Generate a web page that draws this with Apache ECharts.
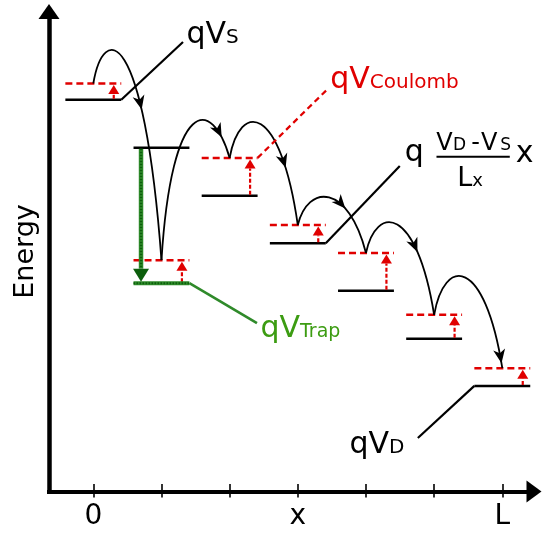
<!DOCTYPE html>
<html>
<head>
<meta charset="utf-8">
<script src="https://cdn.jsdelivr.net/npm/echarts@6/dist/echarts.min.js"></script>
<style>
  html, body { margin: 0; padding: 0; background: #fff; }
  #chart { width: 542px; height: 534px; }
</style>
</head>
<body>
<div id="chart"></div>
<script>
// Hopping transport along x: localized sites on a band edge tilted by the bias,
// each site lifted by its Coulomb energy, one deep trap near the source.
const siteX        = [0, 1, 2, 3, 4, 5, 6];
const bandLevel    = [81.6, 71.6, 61.6, 51.7, 41.8, 31.8, 22.0];
const coulombLevel = [85.0, 48.2, 69.5, 55.5, 49.7, 36.8, 25.7];
const trapSite     = 1;
const trapLevel    = 43.4;
const hopApex      = [92.0, 77.4, 77.0, 61.4, 56.1, 44.9];
const tickValues   = [0, 1, 2, 3, 4, 5, 6];
const tickLabels   = { 0: '0', 3: 'x', 6: 'L' };

const FONT = 'DejaVu Sans';
const RED = '#e00000';
const GREEN_TEXT = '#3c9c12';
const GREEN_LINE = '#2f8a2a';
const GREEN_DARK = '#0c5e0c';

const HALF = 0.41;      // half width of a site level, in x units
const ARROW_DX = 0.3;   // Coulomb arrow offset from site centre
const GREEN_DX = -0.3;  // trapping arrow offset

const measureCtx = document.createElement('canvas').getContext('2d');
function textWidth(s, fs) {
  measureCtx.font = fs + 'px "' + FONT + '"';
  return measureCtx.measureText(s).width;
}

function seg(a, b, style) {
  return { type: 'line', shape: { x1: a[0], y1: a[1], x2: b[0], y2: b[1] }, style: style };
}

// text placed on an alphabetic baseline
function label(x, baseline, s, fs, color, align) {
  return {
    type: 'text', x: x, y: baseline - 0.3 * fs,
    style: { text: s, fontFamily: FONT, fontSize: fs, fill: color,
             align: align || 'left', verticalAlign: 'middle' }
  };
}

// main text followed by a smaller same-baseline suffix
function subLabel(x, baseline, main, sub, fs, subFs, color, alignRight) {
  const w1 = textWidth(main, fs), w2 = textWidth(sub, subFs);
  const x0 = alignRight ? x - w1 - w2 : x;
  return [label(x0, baseline, main, fs, color), label(x0 + w1, baseline, sub, subFs, color)];
}

function upArrowHead(x, tipY, color, w, h) {
  return { type: 'polygon', shape: { points: [[x, tipY], [x + w / 2, tipY + h], [x - w / 2, tipY + h]] },
           style: { fill: color } };
}

function renderSite(params, api) {
  const i = params.dataIndex;
  const x = api.value(0), band = api.value(1), cl = api.value(2);
  const children = [];
  children.push(seg(api.coord([x - HALF, band]), api.coord([x + HALF, band]),
                    { stroke: '#000', lineWidth: 2.5 }));
  children.push(seg(api.coord([x - HALF, cl]), api.coord([x + HALF, cl]),
                    { stroke: RED, lineWidth: 2.5, lineDash: [7, 4] }));
  const base = i === trapSite ? trapLevel : band;
  const pb = api.coord([x + ARROW_DX, base]);
  const pt = api.coord([x + ARROW_DX, cl]);
  const tip = pt[1] + 1.5, headH = 9;
  children.push(seg([pb[0], pb[1] - 1], [pb[0], tip + headH],
                    { stroke: RED, lineWidth: 2.2, lineDash: [4, 2] }));
  children.push(upArrowHead(pb[0], tip, RED, 11, headH));
  return { type: 'group', children: children };
}

function bez(p0, c1, c2, p3, t) {
  const u = 1 - t;
  return u * u * u * p0 + 3 * u * u * t * c1 + 3 * u * t * t * c2 + t * t * t * p3;
}
function bezD(p0, c1, c2, p3, t) {
  const u = 1 - t;
  return 3 * u * u * (c1 - p0) + 6 * u * t * (c2 - c1) + 3 * t * t * (p3 - c2);
}
// control height that makes the arc reach the given apex (pixel y)
function controlY(y0, y3, apexY) {
  let lo = apexY - 600, hi = apexY;
  for (let k = 0; k < 50; k++) {
    const mid = (lo + hi) / 2;
    let minY = Infinity;
    for (let s = 0; s <= 200; s++) minY = Math.min(minY, bez(y0, mid, mid, y3, s / 200));
    if (minY > apexY) hi = mid; else lo = mid;
  }
  return (lo + hi) / 2;
}

const HOP_ARROW_T = [0.71, 0.87, 0.81, 0.7, 0.75, 0.985];

function renderHop(params, api) {
  const i = params.dataIndex;
  const p0 = api.coord([api.value(0), api.value(1)]);
  const p3 = api.coord([api.value(2), api.value(3)]);
  const apexY = api.coord([api.value(0), api.value(4)])[1];
  const dx = p3[0] - p0[0];
  const yc = controlY(p0[1], p3[1], apexY);
  const c1 = [p0[0] + 0.15 * dx, yc], c2 = [p3[0] - 0.26 * dx, yc];
  const t = HOP_ARROW_T[i];
  const tip = [bez(p0[0], c1[0], c2[0], p3[0], t), bez(p0[1], c1[1], c2[1], p3[1], t)];
  let d = [bezD(p0[0], c1[0], c2[0], p3[0], t), bezD(p0[1], c1[1], c2[1], p3[1], t)];
  const len = Math.hypot(d[0], d[1]); d = [d[0] / len, d[1] / len];
  const n = [-d[1], d[0]], L = 14, W = 6;
  const head = [
    tip,
    [tip[0] - L * d[0] + W * n[0], tip[1] - L * d[1] + W * n[1]],
    [tip[0] - 0.72 * L * d[0], tip[1] - 0.72 * L * d[1]],
    [tip[0] - L * d[0] - W * n[0], tip[1] - L * d[1] - W * n[1]]
  ];
  return {
    type: 'group',
    children: [
      { type: 'bezierCurve',
        shape: { x1: p0[0], y1: p0[1], x2: p3[0], y2: p3[1], cpx1: c1[0], cpy1: c1[1], cpx2: c2[0], cpy2: c2[1] },
        style: { stroke: '#000', lineWidth: 1.8, fill: null } },
      { type: 'polygon', shape: { points: head }, style: { fill: '#000' } }
    ]
  };
}

function renderTrap(params, api) {
  const x = api.value(0), band = api.value(1), trap = api.value(2);
  const l = api.coord([x - HALF, trap]), r = api.coord([x + HALF, trap]);
  const top = api.coord([x + GREEN_DX, band]), bot = api.coord([x + GREEN_DX, trap]);
  const headH = 13, headW = 16, tipY = bot[1] - 1.5;
  return {
    type: 'group',
    children: [
      seg(l, r, { stroke: GREEN_LINE, lineWidth: 4 }),
      seg(l, r, { stroke: GREEN_DARK, lineWidth: 2, lineDash: [1.5, 1.5] }),
      seg([top[0], top[1] + 1], [top[0], tipY - headH], { stroke: GREEN_LINE, lineWidth: 4.5 }),
      seg([top[0], top[1] + 1], [top[0], tipY - headH], { stroke: GREEN_DARK, lineWidth: 2.4, lineDash: [1.5, 1.5] }),
      { type: 'polygon', shape: { points: [[top[0], tipY], [top[0] - headW / 2, tipY - headH], [top[0] + headW / 2, tipY - headH]] },
        style: { fill: GREEN_DARK } }
    ]
  };
}

// leader lines, annotations and position labels
function renderNotes(params, api) {
  const c = [];
  // source potential
  const s0 = api.coord([siteX[0] + HALF, bandLevel[0]]);
  const s1 = api.coord([1.316, 93.65]);
  c.push(seg(s0, s1, { stroke: '#000', lineWidth: 2.2 }));
  c.push(...subLabel(s1[0] + 3.5, s1[1] + 2, 'qV', 'S', 30, 20, '#000'));
  // Coulomb energy
  const k0 = api.coord([siteX[2] + HALF, coulombLevel[2]]);
  const k1 = api.coord([3.453, 84.06]);
  c.push(seg(k0, k1, { stroke: RED, lineWidth: 2.2, lineDash: [6, 4] }));
  c.push(...subLabel(k1[0] + 1.5, k1[1] + 1, 'qV', 'Coulomb', 30, 20, RED));
  // linear potential drop
  const f0 = api.coord([siteX[3] + HALF, bandLevel[3]]);
  const f1 = api.coord([4.496, 67.8]);
  c.push(seg(f0, f1, { stroke: '#000', lineWidth: 2.2 }));
  const fx = f1[0], fy = f1[1];
  c.push(label(fx + 5, fy - 4, 'q', 30, '#000'));
  c.push(label(fx + 36.5, fy - 15.5, 'V', 24, '#000'));
  c.push(label(fx + 53.3, fy - 15.5, 'D', 17, '#000'));
  c.push(label(fx + 71.5, fy - 15.5, '-', 24, '#000'));
  c.push(label(fx + 81.3, fy - 15.5, 'V', 24, '#000'));
  c.push(label(fx + 100.5, fy - 15.5, 'S', 17, '#000'));
  c.push(seg([fx + 36.7, fy - 9.3], [fx + 110, fy - 9.3], { stroke: '#000', lineWidth: 2 }));
  c.push(...subLabel(fx + 57.4, fy + 21, 'L', 'x', 27, 18, '#000'));
  c.push(label(fx + 116, fy - 2.7, 'x', 30, '#000'));
  // trap depth
  const t0 = api.coord([siteX[trapSite] + HALF, trapLevel]);
  const t1 = api.coord([2.401, 35.1]);
  c.push(seg(t0, t1, { stroke: GREEN_LINE, lineWidth: 2.6 }));
  c.push(...subLabel(t1[0] + 3.5, t1[1] + 15, 'qV', 'Trap', 30, 19, GREEN_TEXT));
  // drain potential
  const d0 = api.coord([siteX[6] - HALF, bandLevel[6]]);
  const d1 = api.coord([4.761, 11.15]);
  c.push(seg(d0, d1, { stroke: '#000', lineWidth: 2.2 }));
  c.push(...subLabel(d1[0] - 13.5, d1[1] + 16, 'qV', 'D', 30, 20, '#000', true));
  // position labels under the x axis
  Object.keys(tickLabels).forEach(k => {
    const p = api.coord([Number(k), 0]);
    c.push(label(p[0], p[1] + 33.5, tickLabels[k], 28, '#000', 'center'));
  });
  return { type: 'group', children: c };
}

const chart = echarts.init(document.getElementById('chart'), null, { renderer: 'canvas' });

const axisBase = {
  type: 'value', min: -0.65, max: 6.465, position: 'bottom',
  splitLine: { show: false }
};

chart.setOption({
  animation: false,
  backgroundColor: '#fff',
  grid: { left: 49, right: 8, top: 11.5, bottom: 42.5, containLabel: false, outerBoundsMode: 'none' },
  xAxis: [
    Object.assign({}, axisBase, {
      axisLine: { onZero: false, symbol: ['none', 'triangle'], symbolSize: [22, 15],
                  lineStyle: { color: '#000', width: 4, cap: 'square' } },
      axisTick: { show: true, inside: false, length: 6, customValues: tickValues,
                  lineStyle: { color: '#000', width: 1.6 } },
      axisLabel: { show: false }
    }),
    Object.assign({}, axisBase, {
      axisLine: { show: false, onZero: false },
      axisTick: { show: true, inside: true, length: 7.5, customValues: tickValues,
                  lineStyle: { color: '#000', width: 1.6 } },
      axisLabel: { show: false }
    })
  ],
  yAxis: {
    type: 'value', min: 0, max: 100,
    splitLine: { show: false },
    axisLine: { show: true, onZero: false, symbol: ['none', 'triangle'], symbolSize: [21, 15],
                lineStyle: { color: '#000', width: 4.5, cap: 'square' } },
    axisTick: { show: false },
    axisLabel: { show: false },
    name: 'Energy', nameLocation: 'middle', nameGap: 10,
    nameTextStyle: { color: '#000', fontFamily: FONT, fontSize: 27 }
  },
  series: [
    { type: 'custom', name: 'hops', coordinateSystem: 'cartesian2d', silent: true, clip: false, z: 3,
      data: hopApex.map((a, i) => [siteX[i], coulombLevel[i], siteX[i + 1], coulombLevel[i + 1], a]),
      renderItem: renderHop },
    { type: 'custom', name: 'sites', coordinateSystem: 'cartesian2d', silent: true, clip: false, z: 2,
      data: siteX.map((x, i) => [x, bandLevel[i], coulombLevel[i]]),
      renderItem: renderSite },
    { type: 'custom', name: 'trap', coordinateSystem: 'cartesian2d', silent: true, clip: false, z: 4,
      data: [[siteX[trapSite], bandLevel[trapSite], trapLevel]],
      renderItem: renderTrap },
    { type: 'custom', name: 'notes', coordinateSystem: 'cartesian2d', silent: true, clip: false, z: 5,
      data: [[0, 0]],
      renderItem: renderNotes }
  ]
});
</script>
</body>
</html>
